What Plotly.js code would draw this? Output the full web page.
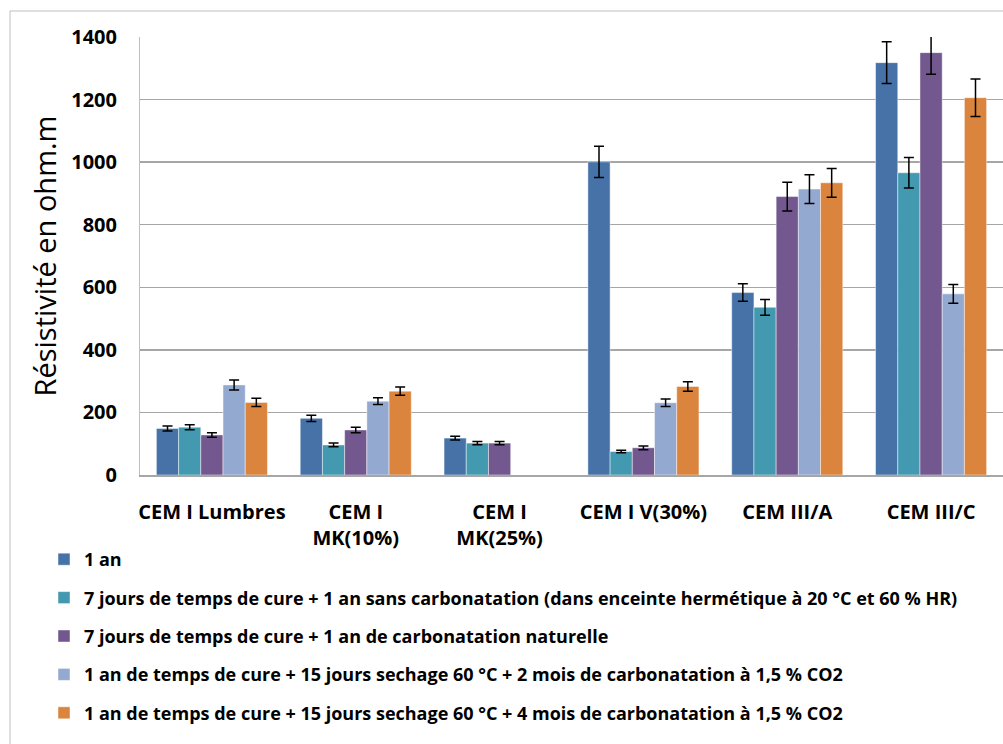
<!DOCTYPE html>
<html>
<head>
<meta charset="utf-8">
<script src="https://cdn.plot.ly/plotly-3.0.1.min.js"></script>
<style>html,body{margin:0;padding:0;background:#fff;overflow:hidden;}#chart{width:1003px;height:744px;}</style>
</head>
<body>
<div id="chart"></div>
<script>
const categories = ["CEM I Lumbres", "CEM I<br>MK(10%)", "CEM I<br>MK(25%)", "CEM I V(30%)", "CEM III/A", "CEM III/C"];

const seriesNames = [
  "1 an",
  "7 jours de temps de cure + 1 an sans carbonatation (dans enceinte hermétique à 20 °C et 60 % HR)",
  "7 jours de temps de cure + 1 an de carbonatation naturelle",
  "1 an de temps de cure + 15 jours sechage 60 °C + 2 mois de carbonatation à 1,5 % CO2",
  "1 an de temps de cure + 15 jours sechage 60 °C + 4 mois de carbonatation à 1,5 % CO2"
];

const s1Values = [149, 181, 118, 1001, 583, 1318];
const s1Errors = [8, 10, 6, 50, 28, 67];
const s2Values = [153, 96, 102, 75, 536, 966];
const s2Errors = [8, 6, 5, 4, 25, 49];
const s3Values = [128, 144, 102, 87, 890, 1350];
const s3Errors = [7, 9, 5, 6, 46, 69];
const s4Values = [288, 236, null, 231, 914, 579];
const s4Errors = [16, 11, null, 12, 46, 30];
const s5Values = [232, 268, null, 283, 934, 1206];
const s5Errors = [13, 13, null, 15, 46, 60];

const colors = ["#4672A8", "#4299B0", "#72588F", "#94A9D0", "#DB843D"];

const allValues = [s1Values, s2Values, s3Values, s4Values, s5Values];
const allErrors = [s1Errors, s2Errors, s3Errors, s4Errors, s5Errors];

const traces = allValues.map((vals, i) => ({
  type: "bar",
  name: seriesNames[i],
  x: categories,
  y: vals,
  legendgroup: "g" + i,
  marker: { color: colors[i], line: { color: "rgba(255,255,255,0.45)", width: 1 } },
  error_y: { type: "data", array: allErrors[i], visible: true, color: "#000", thickness: 1.5, width: 5 },
  hoverinfo: "y"
}));

const fontFam = "'Open Sans', 'DejaVu Sans', sans-serif";

const layout = {
  width: 1003,
  height: 744,
  paper_bgcolor: "#ffffff",
  plot_bgcolor: "#ffffff",
  margin: { l: 140, r: 0, t: 37, b: 269 },
  barmode: "group",
  bargap: 0.228,
  bargroupgap: 0,
  showlegend: true,
  legend: {
    orientation: "v",
    x: (44 - 140) / 863,
    xanchor: "left",
    y: -0.1507,
    yanchor: "top",
    font: { family: fontFam, size: 18, color: "#000", weight: "bold" },
    tracegroupgap: 12,
    bgcolor: "rgba(0,0,0,0)",
    traceorder: "grouped"
  },
  xaxis: {
    type: "category",
    tickfont: { family: fontFam, size: 20, color: "#000", weight: "bold" },
    showline: true,
    linecolor: "#A6A6A6",
    linewidth: 1.5,
    showgrid: false,
    ticks: "",
    tickangle: 0,
    ticklabelstandoff: 18,
    fixedrange: true
  },
  yaxis: {
    range: [0, 1400],
    dtick: 200,
    tick0: 0,
    tickfont: { family: fontFam, size: 20, color: "#000", weight: "bold" },
    showline: true,
    linecolor: "#BFBFBF",
    linewidth: 1,
    showgrid: true,
    gridcolor: "#A6A6A6",
    gridwidth: 1.5,
    zeroline: false,
    ticks: "",
    ticklabelstandoff: 18,
    title: { text: "Résistivité en ohm.m", font: { family: fontFam, size: 29, color: "#000" }, standoff: 6 },
    fixedrange: true
  },
  shapes: [
    {
      type: "rect", xref: "paper", yref: "paper",
      x0: (10 - 140) / 863, x1: 1.05,
      y0: -1, y1: (475 - 11) / 438,
      line: { color: "#BFBFBF", width: 1 },
      fillcolor: "rgba(0,0,0,0)",
      layer: "below"
    }
  ]
};

Plotly.newPlot("chart", traces, layout, { displayModeBar: false, staticPlot: true });
</script>
</body>
</html>
